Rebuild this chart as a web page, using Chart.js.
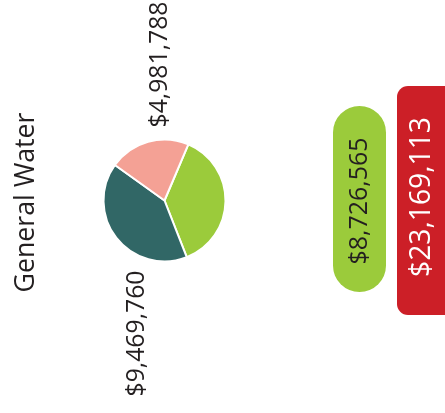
<!DOCTYPE html>
<html><head><meta charset="utf-8">
<script src="https://cdn.jsdelivr.net/npm/chart.js@4/dist/chart.umd.min.js"></script>
<style>html,body{margin:0;padding:0;background:#fff}#wrap{width:445px;height:413px;position:relative}</style>
</head><body><div id="wrap"><canvas id="c" width="445" height="413"></canvas></div>
<script>
// ---- data ----
const categories = ['Green', 'Teal', 'Pink'];
const values = [8726565, 9469760, 4981788];
const colors = ['#9BCB3B', '#316766', '#F4A195'];
const showOuterLabel = [false, true, true];
const title = 'General Water';
const highlightValue = 8726565;
const totalValue = 23169113;

const fmt = v => '$' + v.toLocaleString('en-US');
const FONT = '"Open Sans", "Noto Sans", sans-serif';

// vertical text, reading bottom-to-top, fitted to a target run length
function vText(ctx, text, x, y, size, color, targetLen) {
  ctx.save();
  ctx.translate(x, y);
  ctx.rotate(-Math.PI / 2);
  ctx.font = size + 'px ' + FONT;
  ctx.fillStyle = color;
  ctx.textAlign = 'center';
  ctx.textBaseline = 'middle';
  const w = ctx.measureText(text).width;
  if (targetLen) ctx.scale(targetLen / w, 1);
  ctx.fillText(text, 0, 0);
  ctx.restore();
}

const labelOffsets = { 1: [-28, 133], 2: [-5, -136] };

const overlay = {
  id: 'overlay',
  afterDraw(chart) {
    const ctx = chart.ctx;
    const meta = chart.getDatasetMeta(0);
    const a0 = meta.data[0];
    // slice labels
    meta.data.forEach((arc, i) => {
      if (!showOuterLabel[i]) return;
      const off = labelOffsets[i];
      vText(ctx, fmt(values[i]), arc.x + off[0], arc.y + off[1], 26, '#231F20', 126);
    });
    // title
    vText(ctx, title, 26, a0.y + 2, 27, '#231F20', 180);
    // highlight pill
    ctx.save();
    ctx.fillStyle = '#9BCB3B';
    ctx.beginPath();
    ctx.roundRect(333, 106, 53, 186, 26.5);
    ctx.fill();
    ctx.restore();
    vText(ctx, fmt(highlightValue), 360, 201, 26, '#231F20', 127);
    // total box
    ctx.save();
    ctx.fillStyle = '#CC1F27';
    ctx.beginPath();
    ctx.roundRect(397, 86, 60, 229, 11);
    ctx.fill();
    ctx.restore();
    vText(ctx, fmt(totalValue), 421, 197, 30, '#FFFFFF', 160);
  }
};

new Chart(document.getElementById('c'), {
  type: 'pie',
  data: {
    labels: categories,
    datasets: [{
      data: values,
      backgroundColor: colors,
      borderColor: '#FFFFFF',
      borderWidth: 2
    }]
  },
  options: {
    responsive: false,
    animation: false,
    devicePixelRatio: 1,
    rotation: 23,
    radius: 61,
    layout: { padding: { left: 103, right: 219, top: 139, bottom: 151 } },
    plugins: { legend: { display: false }, tooltip: { enabled: false } }
  },
  plugins: [overlay]
});
</script></body></html>
